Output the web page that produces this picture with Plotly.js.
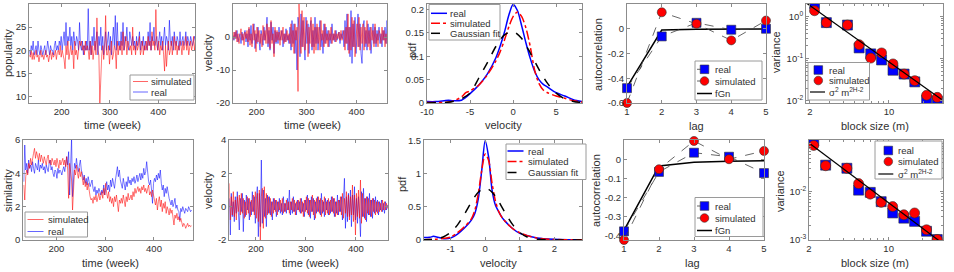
<!DOCTYPE html>
<html><head><meta charset="utf-8">
<script src="https://cdn.plot.ly/plotly-3.0.1.min.js"></script>
<style>html,body{margin:0;padding:0;background:#fff}#chart{width:954px;height:272px}</style>
</head><body><div id="chart"></div>
<script>
// ---------------- DATA ----------------
// weekly time series (every 2nd week)
const weekStartA = 133, weekStartB = 147, weekStep = 2;

const popReal = [20,19,21,20,22,19,20,21,19,22,20,19,21,20,19,
 20,21,19,20,22,20,19,21,20,20,19,21,22,20,21,20,
 22,21,23,20,22,24,21,26,
 21,23,22,25,21,23,20,24,22,21,23,22,20,26,
 21,20,22,19,21,20,22,20,
 29,20,22,19,23,21,25,20,22,24,19,23,
 21,25,20,23,19,22,24,20,
 22,24,20,23,19,22,25,21,27.5,20,26,21,22,
 20,24,21,26,20,23,22,25,21,20,24,22,21,23,
 21,22,20,23,21,22,24,20,22,21,23,20,22,21,
 20,24,21,26,20,23,22,25,21,22,
 23,20,22,24,21,23,20,22,25,21,23,22,20,26.5,
 22,21,23,20,24,22,21,23,22,20,24,21,22,23,21,22,24,21,23,22,21,23,22,21,22,23,22];
const popSim = [19,18.5,20,18,19.5,18,19,20,18.5,19,17.5,19,20,18.5,19,
 18,19,20,18.5,19,17.5,19,20,18,19.5,18.5,19,20,18,19.5,20,
 19,21,18.5,20,19,18,16,21,
 19,22,18,20,21,19,20,16,22,19,20,18,21,22,
 21,22,20,21,19,22,20,21,
 20,18,22,19,21,18,20,22,19,27,20,19,
 8.5,15,19,21,18,20,27.5,19,
 19,21,17,20,22,18,19,21,20,16,22,19,21,
 20,22,19,24,20,21,23,19,22,21,20,21,19,25,
 20,21,19,22,20,21,23,19,20,22,19,21,20,22,
 20,23,21,22,20,24,21,22,20,28.8,
 21,20,22,19,21,20,22,19,15.5,21,16.5,20,22,19,
 20,22,19,21,23,20,22,19,21,20,22,21,19,22,20,21,23,20,22,19,21,22,20,21,23,20,22];

const velReal1 = [1,-0.5,0.5,
 0.5,-1,1.5,-0.5,2,-1.5,0.5,1,-2,1.5,-1,0.5,2,-1.5,
 1,-3,2.5,-1,3.5,-2,0.5,4,-3.5,1,-2,3,-1,-4,2,0.5,-2.5,3,-1,1.5,
 6,-3,2,-4,4.5,-1,3,-5,2,-2,
 1.5,-2,3,-1,0.5,2,-3,1,-1.5,2.5,-1,0.5,-2,
 3,-4,5,-2,4,-5,2,
 -10,6,3,-6,7,-3,5,-4,-7,6,-2,4,-5,3,5,-4,2,-3,6,-2,
 3,-4,2,5,-3,1,-5,4,-2,3,-1,2,-3,1,-2,4,-1,
 1,-1.5,2,-1,0.5,1.5,-2,1,-0.5,2,
 -3,5,-2,7,-4,3,-6,8,-8,4,-3,6,-5,2,7,-3,4,-5,-8,3,
 5,-3,2,-4,4,-2,3,-5,1,4,-2,3,-3,2,-1,3,
 -2,1,-3,2,-1,3,-2,5, 1];
const velSim1 = [-0.5,1,-1,
 -1,1.5,-0.5,2,-1.5,1,-2,0.5,2.5,-1,1,-2.5,1.5,-0.5,
 2,-1.5,3,-2.5,1,-3,4,-1,2,-4.5,3,-1.5,2,-2,1,-3,3.5,-1,2,-2,
 4,-2,3,-3.5,5,-2,1,-6,3,-1.5,
 2,-1,1.5,-2.5,2,-1,3,-2,1,-1.5,2,-1,1,
 -2,4,-3,2,-5,4,-1,
 3,-16.5,10,2,-5,8,-3,6,-4,2,5,-6,3,-2,6,-3,4,-5,3,-4,
 4,-2,3,-4,5,-1,2,-3,4,-2,1,-3,2,-1,3,-2,1,
 -1,2,-1.5,1,-0.5,1.5,-1,2,-1,0.5,
 2,-4,3,-2,7,-5,3,-4,6,-3,5,-6,2,4,-3,6,-4,3,-2,4,
 -4,3,-2,5,-3,2,-4,3,-1,2,-3,4,-2,1,-3,2,
 1,-2,3,-1,2,-3,1,-2, -1];

const simReal = [3.5,5.7,4.2,4.6,4.0,4.8,4.3,4.5,4.1,4.7,
 4.3,4.0,4.6,4.4,4.2,4.8,4.1,4.5,4.3,4.6,
 4.2,4.4,4.0,4.5,4.3,4.1,4.6,4.8,4.2,4.4,
 4.0,3.8,4.2,4.1,3.7,4.3,4.0,4.2,4.1,3.9,
 4.2,4.4,4.1,4.6,5.0,4.5,5.3,2.7,4.8,6.1,
 2.6,4.2,4.6,4.3,4.9,4.4,4.1,4.5,4.8,4.2,
 4.0,3.6,3.9,3.4,3.7,3.3,3.8,3.5,3.2,3.4,
 3.6,3.1,2.9,3.2,2.7,3.0,2.8,3.1,2.9,2.7,
 3.0,2.8,3.3,2.7,3.1,3.5,3.0,3.3,2.9,3.6,
 3.2,3.7,3.4,3.1,3.6,3.9,4.4,3.8,4.2,3.6,
 3.4,3.1,3.7,3.3,3.0,3.5,3.2,3.8,3.4,3.6,
 3.3,3.7,3.5,3.8,3.4,3.6,3.9,3.5,3.7,4.0,
 3.6,4.0,3.7,4.3,3.9,4.1,4.7,3.8,3.5,3.3,
 3.6,3.0,2.2,3.4,3.7,3.5,3.9,3.6,4.0,3.7,
 4.2,3.4,3.0,3.3,2.6,3.1,2.8,3.2,2.7,2.5,
 2.3,2.1,2.4,2.0,2.2,2.5,1.9,2.1,1.8,1.7,
 1.2,1.9,1.7,2.0,1.8,1.6,1.9,1.8,1.7,2.0,1.8,1.7,1.8];
const simSim = [3.3,2.4,3.8,4.2,3.9,4.6,4.3,4.9,4.5,5.0,
 5.2,5.5,4.9,5.3,5.0,4.8,5.2,4.7,5.1,4.9,
 4.6,5.0,4.7,4.5,4.9,5.1,4.6,4.8,4.5,4.9,
 4.7,4.5,4.8,4.4,4.9,4.6,4.3,4.8,4.5,4.7,
 4.9,4.5,4.8,4.4,5.0,4.2,2.5,4.6,4.0,3.6,
 1.8,3.6,4.2,3.9,4.5,4.0,3.7,4.3,3.8,4.1,
 3.6,3.3,3.8,3.2,3.5,3.0,3.4,2.8,2.6,2.4,
 2.5,2.2,2.6,2.4,2.7,2.3,2.5,2.8,2.4,2.6,
 2.9,2.5,3.1,2.7,3.4,2.8,2.5,2.9,2.3,2.6,
 2.2,2.5,2.0,2.6,2.3,2.7,2.1,1.7,2.4,2.2,
 2.5,2.2,2.7,2.4,2.0,2.6,2.3,2.8,2.4,2.5,
 2.7,2.4,2.9,2.6,3.1,2.8,3.0,3.2,2.9,3.1,
 2.8,3.2,3.0,3.3,2.9,3.1,2.8,3.0,3.3,2.7,
 2.9,2.6,3.0,2.7,2.4,2.1,2.5,1.8,2.3,2.6,
 2.0,2.4,1.7,2.2,1.9,2.3,1.6,2.0,1.8,1.5,
 1.9,1.6,1.8,1.4,0.9,1.5,1.3,1.6,1.2,1.4,
 1.1,1.3,1.0,0.8,1.0,0.9,0.7,0.9,1.0,0.8,0.9,0.8,0.85];

const velReal2 = [0.5,-1.7,0.8,-0.6,0.3,-0.9,0.6,-0.4,0.9,-0.7,
 -1.4,0.5,-0.3,0.8,-1.5,0.4,-0.6,0.7,-0.2,0.5,
 -0.8,0.3,-0.5,0.9,-0.3,0.6,-1.0,0.4,1.2,-1.8,
 0.8,-1.2,2.8,-1.0,1.0,-0.6,0.5,-1.2,0.7,-0.4,
 0.6,-0.5,0.3,-0.8,0.5,-0.2,0.4,-0.6,0.3,-0.3,
 0.5,-0.4,0.2,-0.5,0.6,-0.3,0.2,-0.4,0.5,-0.2,
 1.0,-0.5,0.3,-0.4,0.6,-0.3,0.2,-0.5,0.4,-0.2,
 0.3,-0.4,0.5,-0.3,0.2,-0.6,0.4,-0.2,0.7,-0.5,
 0.4,-0.7,0.6,-0.3,0.5,-0.8,0.3,-0.4,0.6,-0.3,
 0.4,-0.5,0.8,-0.4,0.3,-0.6,0.5,-0.2,0.4,-0.5,
 0.3,-0.4,0.6,-0.3,0.5,-0.6,0.3,-0.4,0.7,-0.5,
 0.4,-0.3,0.6,-0.8,0.5,1.7,-1.3,0.6,-0.9,0.8,
 -0.6,1.0,-1.2,0.7,-0.5,1.2,-0.8,0.5,-1.0,0.6,
 -0.4,-1.8,0.9,-0.6,1.1,-0.7,0.5,-0.9,0.6,-0.5,
 0.8,-0.6,0.4,-0.7,0.5,-0.4,0.6,-0.3,0.4,-0.5,
 0.3,-0.2,0.4,-0.3,0.2,-0.4,0.3,-0.2,0.1];
const velSim2 = [1.4,-0.8,0.6,-0.5,0.9,-0.6,0.4,-0.8,0.6,-0.3,
 0.7,-0.5,0.8,-0.4,0.5,-0.7,0.3,-0.5,0.6,-0.4,
 0.5,-0.6,0.4,-0.3,0.7,-0.5,0.9,-0.7,0.8,-0.9,
 1.0,-2.0,0.6,1.1,-1.3,1.2,-0.7,0.8,-0.5,0.6,
 -0.4,0.5,-0.6,0.3,-0.4,0.5,-0.3,0.4,-0.5,0.3,
 -0.2,0.4,-0.3,0.5,-0.4,0.2,-0.3,0.4,-0.2,0.3,
 -0.4,0.3,-0.2,0.5,-0.3,0.4,-0.5,0.3,-0.2,0.4,
 -0.3,0.5,-0.4,0.3,-0.6,0.4,-0.3,0.6,-0.4,0.5,
 -0.6,0.4,-0.3,0.7,-0.5,0.4,-0.7,0.5,-0.3,0.6,
 -0.4,0.5,-0.6,0.4,-0.3,0.6,-0.5,0.3,-0.4,0.5,
 -0.5,0.4,-0.3,0.6,-0.4,0.5,-0.6,0.3,-0.5,0.4,
 -0.3,0.6,-0.5,0.8,-0.7,0.5,-0.4,0.9,-0.6,0.7,
 -0.8,0.6,-0.5,1.3,-0.9,0.7,-1.7,0.8,-0.6,1.0,
 -0.7,1.6,-1.0,0.8,-0.6,0.5,-0.8,0.6,-0.4,0.5,
 -0.5,0.4,-0.6,0.5,-0.3,0.4,-0.5,0.3,-0.4,0.3,
 -0.3,0.2,-0.3,0.4,-0.2,0.3,-0.2,0.2,-0.1];

// velocity pdfs
const pdfX1 = [-10,-9,-8,-7.5,-7,-6,-5.5,-5,-4,-3,-2,-1.5,-1,-0.5,0,0.5,1,1.5,2,2.5,3,3.5,4,5,6,7,8];
const pdfReal1 = [0.003,0.003,0.005,0.006,0.005,0.006,0.012,0.02,0.038,0.062,0.097,0.122,0.152,0.188,0.211,0.198,0.165,0.128,0.095,0.068,0.05,0.04,0.034,0.022,0.015,0.007,0.003];
const pdfSim1 = [0.001,0.001,0.001,0.002,0.004,0.013,0.022,0.026,0.038,0.06,0.09,0.11,0.135,0.163,0.185,0.195,0.185,0.16,0.12,0.07,0.042,0.028,0.022,0.015,0.01,0.005,0.002];
const gaussX1 = [-10,-9,-8,-7,-6,-5,-4,-3,-2,-1,0,1,2,3,4,5,6,7,8];
const gaussY1 = [0.0002,0.0003,0.001,0.0033,0.009,0.021,0.053,0.086,0.121,0.146,0.153,0.138,0.107,0.072,0.042,0.021,0.009,0.0033,0.001];

const pdfX2 = [-1.8,-1.6,-1.5,-1.4,-1.2,-1,-0.8,-0.6,-0.4,-0.3,-0.2,-0.1,0,0.1,0.2,0.3,0.4,0.5,0.6,0.8,1,1.2,1.5,2,2.5,2.8];
const pdfReal2 = [0.04,0.04,0.055,0.045,0.02,0.03,0.09,0.18,0.3,0.4,0.62,1.05,1.5,1.25,0.75,0.52,0.42,0.33,0.27,0.17,0.1,0.07,0.03,0.01,0.005,0.003];
const pdfSim2 = [0.005,0.006,0.01,0.012,0.025,0.045,0.11,0.2,0.32,0.45,0.7,1.05,1.3,1.2,0.85,0.58,0.42,0.33,0.27,0.17,0.11,0.07,0.03,0.008,0.004,0.002];
const gaussY2 = [0.0015,0.0057,0.0103,0.018,0.049,0.114,0.228,0.391,0.573,0.656,0.722,0.765,0.78,0.765,0.722,0.656,0.573,0.482,0.391,0.228,0.114,0.049,0.0103,0.0004,0,0];

// autocorrelation
const lags = [1,2,3,4,5];
const acReal1 = [-0.48,-0.062,0.048,-0.008,0.0];
const acSim1  = [-0.6,0.133,0.04,-0.094,0.066];
const acFgn1  = [-0.47,-0.011,-0.004,-0.002,-0.001];
const acReal2 = [-0.375,-0.066,0.034,0.013,-0.072];
const acSim2  = [-0.42,-0.052,0.095,0.0,0.043];
const acFgn2  = [-0.37,-0.035,-0.016,-0.01,-0.008];

// aggregated variance
const blockSize = [2.2,2.8,4.3,5.45,6.9,8.6,10.85,13.6,16.9,21.5,26.7];
const varReal1 = [2.05,0.72,0.63,0.18,0.13,0.093,0.053,0.043,0.028,0.0103,0.0098];
const varSim1  = [1.38,0.72,0.63,0.215,0.103,0.137,0.075,0.043,0.030,0.0135,0.012];
const fitX1 = [1.87,29.2];
const fitY1 = [2.09,0.0107];
const varReal2 = [0.115,0.036,0.031,0.0108,0.0097,0.0062,0.0036,0.0028,0.0024,0.00149,0.001];
const varSim2  = [0.093,0.035,0.031,0.0148,0.0089,0.006,0.0049,0.0033,0.0036,0.0016,0.001];
const fitX2 = [2.07,28.3];
const fitY2 = [0.0986,0.00091];

// tick labels
const ticksTime = [200,300,400];
const ticksPop = [10,15,20,25,30];
const ticksVel1 = [-20,-10,0,10];
const ticksPdfX1 = [-10,-5,0,5];
const ticksPdfY1 = [0,0.05,0.1,0.15,0.2];
const ticksLag = [1,2,3,4,5];
const ticksAc1 = [-0.6,-0.4,-0.2,0,0.2];
const ticksBlock = [2,10];
const ticksVar1 = [0.01,0.1,1];
const ticksVar1Text = ['10<sup>-2</sup>','10<sup>-1</sup>','10<sup>0</sup>'];
const ticksSimil = [0,2,4,6];
const ticksVel2 = [-2,0,2,4];
const ticksPdfX2 = [-1,0,1,2];
const ticksPdfY2 = [0,0.5,1,1.5];
const ticksAc2 = [-0.4,-0.3,-0.2,-0.1,0];
const ticksVar2 = [0.001,0.01];
const ticksVar2Text = ['10<sup>-3</sup>','10<sup>-2</sup>'];

// names / titles
const nameReal = 'real', nameSim = 'simulated', nameGauss = 'Gaussian fit', nameFgn = 'fGn';
const nameFit = '\u03c3<sup>2</sup> m<sup>2H-2</sup>';

// ---------------- LAYOUT ----------------
const W = 954, H = 272;
const FONT = '"Liberation Sans", Arial, Helvetica, sans-serif';
const AX = '#8c8c8c', TXT = '#303030';
const RED = '#ff0000', BLUE = '#0000ff';
const px = v => v / W, py = v => 1 - v / H;
const boxes = {
  1: [29.3,195, 4,103], 2: [233,387, 4,103], 3: [427,582, 4,103], 4: [627,766, 4,103], 5: [806,943, 4,103],
  6: [23.3,193, 140,240], 7: [229.3,388, 140,240], 8: [424,582, 140,240], 9: [624,764, 140,240], 10: [809,943, 140,240]
};
function ax(n, isX, extra) {
  const b = boxes[n];
  const base = {
    domain: isX ? [px(b[0]), px(b[1])] : [py(b[3]), py(b[2])],
    anchor: (isX ? 'y' : 'x') + (n === 1 ? '' : n),
    showline: true, mirror: 'ticks', linecolor: AX, linewidth: 1,
    ticks: 'inside', ticklen: 3, tickcolor: AX, tickwidth: 1,
    showgrid: false, zeroline: false, fixedrange: true,
    tickfont: {size: 9.5, color: TXT, family: FONT}
  };
  return Object.assign(base, extra);
}
function tk(vals, text) { return {tickmode: 'array', tickvals: vals, ticktext: text || vals.map(String)}; }
const minorLog = {ticks: 'inside', ticklen: 2, tickcolor: AX, dtick: 'D1', showgrid: false};

const shapes = [], annotations = [];
function title(x, y, text, vertical) {
  annotations.push({xref: 'paper', yref: 'paper', x: px(x), y: py(y), xanchor: 'center', yanchor: 'middle',
    text: text, showarrow: false, textangle: vertical ? -90 : 0, font: {size: 11, color: TXT, family: FONT}});
}
// axis titles
title(112, 125, 'time (week)'); title(312, 125, 'time (week)'); title(503, 125, 'velocity');
title(696, 126, 'lag'); title(875, 126, 'block size (m)');
title(110, 263, 'time (week)'); title(310, 263, 'time (week)'); title(498, 263, 'velocity');
title(692, 263, 'lag'); title(875, 263, 'block size (m)');
title(8, 53, 'popularity', true); title(208, 53, 'velocity', true); title(412, 50, 'pdf', true);
title(598, 55, 'autocorrelation', true); title(776, 52, 'variance', true);
title(8, 191, 'similarity', true); title(208, 191, 'velocity', true); title(402, 184, 'pdf', true);
title(596, 191, 'autocorrelation', true); title(780, 191, 'variance', true);

// custom legends (boxes, glyphs, labels)
function legBox(x0, y0, x1, y1) {
  shapes.push({type: 'rect', xref: 'paper', yref: 'paper', x0: px(x0), x1: px(x1), y0: py(y1), y1: py(y0),
    line: {color: '#9a9a9a', width: 1}, fillcolor: '#fff', layer: 'above'});
}
function legLine(xa, xb, y, color, width, dash) {
  shapes.push({type: 'line', xref: 'paper', yref: 'paper', x0: px(xa), x1: px(xb), y0: py(y), y1: py(y),
    line: {color: color, width: width, dash: dash || 'solid'}, layer: 'above'});
}
function legMarker(cx, cy, sym, color) {
  const r = 4.3;
  shapes.push({type: sym === 'square' ? 'rect' : 'circle', xref: 'paper', yref: 'paper',
    x0: px(cx - r), x1: px(cx + r), y0: py(cy + r), y1: py(cy - r),
    fillcolor: color, line: {color: '#303030', width: 0.6}, layer: 'above'});
}
function legText(x, y, text) {
  annotations.push({xref: 'paper', yref: 'paper', x: px(x), y: py(y), xanchor: 'left', yanchor: 'middle',
    text: text, showarrow: false, borderpad: 0, font: {size: 9.5, color: TXT, family: FONT}});
}
// R1C1
legBox(130, 75, 194, 100);
legLine(133, 148, 81.5, 'rgba(255,0,0,0.6)', 1); legText(150, 81.5, nameSim);
legLine(133, 148, 92, 'rgba(0,0,255,0.6)', 1); legText(150, 92, nameReal);
// R1C3
legBox(429, 4.5, 500, 40);
legLine(431, 447, 13.3, BLUE, 1.5); legText(449, 13.3, nameReal);
legLine(431, 447, 23.3, RED, 1.5, 'dashdot'); legText(449, 23.3, nameSim);
legLine(431, 447, 33.3, '#000', 1.5, 'dash'); legText(449, 33.3, nameGauss);
// R1C4
legBox(695, 61, 762, 100);
legLine(697, 712, 69.3, '#404040', 0.8, 'dash'); legMarker(704.5, 69.3, 'square', BLUE); legText(714, 69.3, nameReal);
legLine(697, 712, 81, '#404040', 0.8, 'dash'); legMarker(704.5, 81, 'circle', RED); legText(714, 81, nameSim);
legLine(697, 712, 93.5, '#000', 1.5); legText(714, 93.5, nameFgn);
// R1C5
legBox(808, 62.5, 869.5, 100);
legMarker(818.3, 70, 'square', BLUE); legText(828.3, 70, nameReal);
legMarker(818.3, 80.5, 'circle', RED); legText(828.3, 80.5, nameSim);
legLine(810, 825, 92, '#000', 1.2); legText(828.3, 92, nameFit);
// R2C1
legBox(25, 212, 87.5, 237);
legLine(27.5, 43.5, 219.5, 'rgba(255,0,0,0.6)', 1); legText(46.5, 219.5, nameSim);
legLine(27.5, 43.5, 231.5, 'rgba(0,0,255,0.6)', 1); legText(46.5, 231.5, nameReal);
// R2C3
legBox(506, 144, 586, 179.5);
legLine(507.5, 523.5, 151, BLUE, 1.5); legText(526.5, 151, nameReal);
legLine(507.5, 523.5, 161.5, RED, 1.5, 'dashdot'); legText(526.5, 161.5, nameSim);
legLine(507.5, 523.5, 172.5, '#000', 1.5, 'dash'); legText(526.5, 172.5, nameGauss);
// R2C4
legBox(695, 197.5, 763, 236.5);
legLine(697, 712, 206, '#404040', 0.8, 'dash'); legMarker(704.5, 206, 'square', BLUE); legText(714, 206, nameReal);
legLine(697, 712, 218, '#404040', 0.8, 'dash'); legMarker(704.5, 218, 'circle', RED); legText(714, 218, nameSim);
legLine(697, 712, 230.5, '#000', 1.5); legText(714, 230.5, nameFgn);
// R2C5
legBox(875, 141, 942, 179);
legMarker(888.3, 150.5, 'square', BLUE); legText(896.7, 150.5, nameReal);
legMarker(888.3, 161.5, 'circle', RED); legText(896.7, 161.5, nameSim);
legLine(878.3, 893.3, 174, '#000', 1.2); legText(896.7, 174, nameFit);

const layout = {
  width: W, height: H, margin: {l: 0, r: 0, t: 0, b: 0},
  paper_bgcolor: '#fff', plot_bgcolor: '#fff', font: {family: FONT, color: TXT, size: 10},
  showlegend: false, shapes: shapes, annotations: annotations,
  xaxis: ax(1, true, Object.assign({range: [133, 476]}, tk(ticksTime))),
  yaxis: ax(1, false, Object.assign({range: [8.6, 30]}, tk(ticksPop))),
  xaxis2: ax(2, true, Object.assign({range: [153, 461]}, tk(ticksTime))),
  yaxis2: ax(2, false, Object.assign({range: [-20, 10]}, tk(ticksVel1))),
  xaxis3: ax(3, true, Object.assign({range: [-10, 8]}, tk(ticksPdfX1))),
  yaxis3: ax(3, false, Object.assign({range: [0, 0.212]}, tk(ticksPdfY1))),
  xaxis4: ax(4, true, Object.assign({range: [1, 5]}, tk(ticksLag))),
  yaxis4: ax(4, false, Object.assign({range: [-0.6, 0.2]}, tk(ticksAc1))),
  xaxis5: ax(5, true, Object.assign({type: 'log', range: [Math.log10(1.85), Math.log10(30)], minor: minorLog}, tk(ticksBlock))),
  yaxis5: ax(5, false, Object.assign({type: 'log', range: [-2.055, 0.30], minor: minorLog}, tk(ticksVar1, ticksVar1Text))),
  xaxis6: ax(6, true, Object.assign({range: [132, 480]}, tk(ticksTime))),
  yaxis6: ax(6, false, Object.assign({range: [0, 6]}, tk(ticksSimil))),
  xaxis7: ax(7, true, Object.assign({range: [147, 464]}, tk(ticksTime))),
  yaxis7: ax(7, false, Object.assign({range: [-2, 4]}, tk(ticksVel2))),
  xaxis8: ax(8, true, Object.assign({range: [-1.77, 2.8]}, tk(ticksPdfX2))),
  yaxis8: ax(8, false, Object.assign({range: [0, 1.51]}, tk(ticksPdfY2))),
  xaxis9: ax(9, true, Object.assign({range: [1, 5]}, tk(ticksLag))),
  yaxis9: ax(9, false, Object.assign({range: [-0.42, 0.1]}, tk(ticksAc2))),
  xaxis10: ax(10, true, Object.assign({type: 'log', range: [Math.log10(2.0), Math.log10(30)], minor: minorLog}, tk(ticksBlock))),
  yaxis10: ax(10, false, Object.assign({type: 'log', range: [-3.01, -0.917], minor: minorLog}, tk(ticksVar2, ticksVar2Text)))
};

// ---------------- TRACES ----------------
const traces = [];
const sub = n => (n === 1 ? '' : String(n));
function ts(y, x0, n, color, name) {
  traces.push({type: 'scatter', mode: 'lines', y: y, x0: x0, dx: weekStep, name: name,
    xaxis: 'x' + sub(n), yaxis: 'y' + sub(n), line: {color: color, width: 0.9}, opacity: 0.6});
}
ts(popReal, weekStartA, 1, BLUE, nameReal);
ts(popSim, weekStartA, 1, RED, nameSim);
ts(velReal1, weekStartB, 2, BLUE, nameReal);
ts(velSim1, weekStartB, 2, RED, nameSim);
ts(simReal, weekStartA, 6, BLUE, nameReal);
ts(simSim, weekStartA, 6, RED, nameSim);
ts(velReal2, weekStartB, 7, BLUE, nameReal);
ts(velSim2, weekStartB, 7, RED, nameSim);

function pdf(x, y, n, color, dash, name) {
  traces.push({type: 'scatter', mode: 'lines', x: x, y: y, name: name,
    xaxis: 'x' + n, yaxis: 'y' + n, line: {color: color, width: 1.5, dash: dash, shape: 'spline', smoothing: 0.8}});
}
pdf(pdfX1, pdfReal1, 3, BLUE, 'solid', nameReal);
pdf(pdfX1, pdfSim1, 3, RED, 'dashdot', nameSim);
pdf(gaussX1, gaussY1, 3, '#000', 'dash', nameGauss);
pdf(pdfX2, pdfReal2, 8, BLUE, 'solid', nameReal);
pdf(pdfX2, pdfSim2, 8, RED, 'dashdot', nameSim);
pdf(pdfX2, gaussY2, 8, '#000', 'dash', nameGauss);

function ac(y, n, sym, color, name) {
  traces.push({type: 'scatter', mode: 'lines+markers', x: lags, y: y, name: name,
    xaxis: 'x' + n, yaxis: 'y' + n, cliponaxis: false,
    line: {color: '#404040', width: 0.8, dash: 'dash'},
    marker: {symbol: sym, size: 9, color: color, line: {color: '#303030', width: 0.6}}});
}
function acFit(y, n) {
  traces.push({type: 'scatter', mode: 'lines', x: lags, y: y, name: nameFgn,
    xaxis: 'x' + n, yaxis: 'y' + n, line: {color: '#000', width: 1.5}});
}
acFit(acFgn1, 4);
ac(acReal1, 4, 'square', BLUE, nameReal);
ac(acSim1, 4, 'circle', RED, nameSim);
acFit(acFgn2, 9);
ac(acReal2, 9, 'square', BLUE, nameReal);
ac(acSim2, 9, 'circle', RED, nameSim);

function vr(y, n, sym, color, name) {
  traces.push({type: 'scatter', mode: 'markers', x: blockSize, y: y, name: name,
    xaxis: 'x' + n, yaxis: 'y' + n,
    marker: {symbol: sym, size: 10, color: color, line: {color: '#303030', width: 0.6}}});
}
function vrFit(x, y, n) {
  traces.push({type: 'scatter', mode: 'lines', x: x, y: y, name: nameFit,
    xaxis: 'x' + n, yaxis: 'y' + n, line: {color: '#000', width: 1.2}});
}
vr(varReal1, 5, 'square', BLUE, nameReal);
vr(varSim1, 5, 'circle', RED, nameSim);
vrFit(fitX1, fitY1, 5);
vr(varReal2, 10, 'square', BLUE, nameReal);
vr(varSim2, 10, 'circle', RED, nameSim);
vrFit(fitX2, fitY2, 10);

Plotly.newPlot('chart', traces, layout, {staticPlot: true, displayModeBar: false});
</script></body></html>
